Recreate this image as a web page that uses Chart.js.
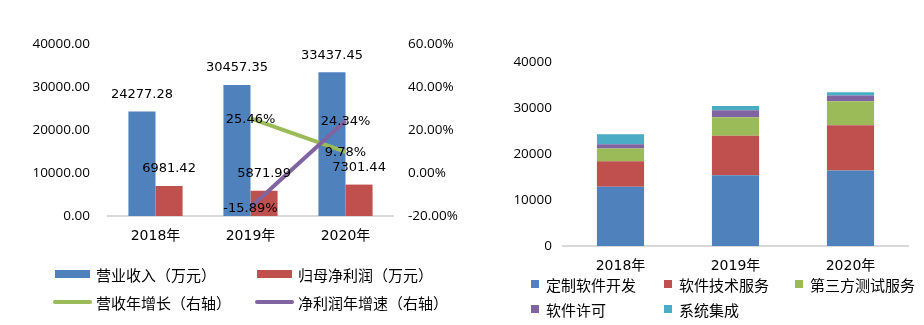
<!DOCTYPE html>
<html>
<head>
<meta charset="utf-8">
<script src="https://cdn.jsdelivr.net/npm/chart.js@4.4.1/dist/chart.umd.min.js"></script>
<style>
    html, body { margin: 0; padding: 0; background: #fff; }
    #left { position: absolute; left: 0; top: 0; width: 470px; height: 325px; }
    #right { position: absolute; left: 480px; top: 0; width: 444px; height: 325px; }
</style>
</head>
<body>
<div id="left"><canvas id="chart-1"></canvas></div>
<div id="right"><canvas id="chart-2"></canvas></div>
<script>
// 年份
const years = ['2018年', '2019年', '2020年'];

// 营收 / 净利润 (万元) 与同比增速 (%)
const revenue = [24277.28, 30457.35, 33437.45];
const netProfit = [6981.42, 5871.99, 7301.44];
const revenueGrowth = [null, 25.46, 9.78];
const profitGrowth = [null, -15.89, 24.34];

// 收入构成 (万元)
const customDev = [12900, 15400, 16410];
const techService = [5550, 8560, 9850];
const testService = [2750, 4045, 5215];
const licensing = [930, 1515, 1240];
const integration = [2150, 937, 720];

// 坐标轴范围
const leftAxis = { min: 0, max: 40000, step: 10000 };
const rightAxis = { min: -20, max: 60, step: 20 };
const mixAxis = { min: 0, max: 40000, step: 10000 };

const BLUE = '#4F81BD';
const RED = '#C0504D';
const GREEN = '#9BBB59';
const PURPLE = '#8064A2';
const CYAN = '#4BACC6';

const tickFont = { family: "'Open Sans', 'Noto Sans CJK SC'", size: 13.5 };
const catFont = { family: "'DejaVu Sans', 'Noto Sans CJK SC'", size: 14 };
const LEGEND_FONT = "15px 'Noto Sans CJK SC'";
const LABEL_FONT = "13px 'DejaVu Sans'";

// 柱顶和折线点上的数值
const valueLabels = {
    id: 'valueLabels',
    afterDatasetsDraw(chart) {
        const ctx = chart.ctx;
        ctx.save();
        ctx.font = LABEL_FONT;
        ctx.fillStyle = '#000';
        ctx.textAlign = 'center';
        ctx.textBaseline = 'middle';
        chart.data.datasets.forEach((ds, i) => {
            const meta = chart.getDatasetMeta(i);
            meta.data.forEach((el, j) => {
                const v = ds.data[j];
                if (v == null) return;
                if (ds.type === 'line') {
                    ctx.fillText(v.toFixed(2) + '%', el.x, el.y + 1);
                } else {
                    ctx.fillText(v.toFixed(2), el.x, el.y - 17);
                }
            });
        });
        ctx.restore();
    }
};

// 网格式图例
function gridLegend(cfg) {
    return {
        id: 'gridLegend',
        afterDraw(chart) {
            const ctx = chart.ctx;
            ctx.save();
            ctx.font = LEGEND_FONT;
            ctx.textBaseline = 'middle';
            ctx.textAlign = 'left';
            chart.data.datasets.forEach((ds, i) => {
                const x = cfg.cols[i % cfg.cols.length];
                const y = cfg.rows[Math.floor(i / cfg.cols.length)];
                if (ds.type === 'line') {
                    ctx.strokeStyle = ds.borderColor;
                    ctx.lineWidth = 4;
                    ctx.lineCap = 'round';
                    ctx.beginPath();
                    ctx.moveTo(x, y);
                    ctx.lineTo(x + cfg.swatchW, y);
                    ctx.stroke();
                } else {
                    ctx.fillStyle = ds.backgroundColor;
                    ctx.fillRect(x, y - cfg.swatchH / 2, cfg.swatchW, cfg.swatchH);
                }
                ctx.fillStyle = '#000';
                ctx.fillText(ds.label, x + cfg.swatchW + cfg.gap, y + 1);
            });
            ctx.restore();
        }
    };
}

const noGrid = { display: false, drawTicks: false };

// 营收与净利润
new Chart(document.getElementById('chart-1'), {
    type: 'bar',
    data: {
        labels: years,
        datasets: [{
            label: '营业收入（万元）',
            data: revenue,
            backgroundColor: BLUE,
            yAxisID: 'y',
            order: 3
        }, {
            label: '归母净利润（万元）',
            data: netProfit,
            backgroundColor: RED,
            yAxisID: 'y',
            order: 3
        }, {
            type: 'line',
            label: '营收年增长（右轴）',
            data: revenueGrowth,
            borderColor: GREEN,
            borderWidth: 4,
            pointRadius: 0,
            yAxisID: 'y1',
            order: 2
        }, {
            type: 'line',
            label: '净利润年增速（右轴）',
            data: profitGrowth,
            borderColor: PURPLE,
            borderWidth: 4,
            pointRadius: 0,
            yAxisID: 'y1',
            order: 1
        }]
    },
    options: {
        responsive: true,
        maintainAspectRatio: false,
        animation: false,
        layout: { padding: { top: 44, left: 0, right: 0, bottom: 0 } },
        datasets: { bar: { categoryPercentage: 0.57, barPercentage: 1 } },
        scales: {
            x: {
                grid: noGrid,
                border: { color: '#d9d9d9', width: 2 },
                ticks: { color: '#000', font: catFont, padding: 12 },
                afterFit: s => { s.height = 109; }
            },
            y: {
                position: 'left',
                min: leftAxis.min,
                max: leftAxis.max,
                grid: noGrid,
                border: { display: false },
                ticks: { stepSize: leftAxis.step, color: '#000', font: tickFont, padding: 18,
                    callback: v => v.toFixed(2) },
                afterFit: s => { s.width = 108; }
            },
            y1: {
                position: 'right',
                min: rightAxis.min,
                max: rightAxis.max,
                grid: noGrid,
                border: { display: false },
                ticks: { stepSize: rightAxis.step, color: '#000', font: tickFont, padding: 15,
                    callback: v => v.toFixed(2) + '%' },
                afterFit: s => { s.width = 77; }
            }
        },
        plugins: { legend: { display: false }, tooltip: { enabled: false } }
    },
    plugins: [valueLabels, gridLegend({ cols: [55, 257], rows: [274, 302], swatchW: 35, swatchH: 8, gap: 6 })]
});

// 收入构成堆叠柱
new Chart(document.getElementById('chart-2'), {
    type: 'bar',
    data: {
        labels: years,
        datasets: [
            { label: '定制软件开发', data: customDev, backgroundColor: BLUE },
            { label: '软件技术服务', data: techService, backgroundColor: RED },
            { label: '第三方测试服务', data: testService, backgroundColor: GREEN },
            { label: '软件许可', data: licensing, backgroundColor: PURPLE },
            { label: '系统集成', data: integration, backgroundColor: CYAN }
        ]
    },
    options: {
        responsive: true,
        maintainAspectRatio: false,
        animation: false,
        layout: { padding: { top: 62, left: 0, right: 16, bottom: 0 } },
        datasets: { bar: { categoryPercentage: 0.41, barPercentage: 1 } },
        scales: {
            x: {
                stacked: true,
                grid: noGrid,
                border: { color: '#d9d9d9', width: 2 },
                ticks: { color: '#000', font: catFont, padding: 12 },
                afterFit: s => { s.height = 79; }
            },
            y: {
                stacked: true,
                min: mixAxis.min,
                max: mixAxis.max,
                grid: noGrid,
                border: { display: false },
                ticks: { stepSize: mixAxis.step, color: '#000', font: tickFont, padding: 11,
                    callback: v => String(v) },
                afterFit: s => { s.width = 83; }
            }
        },
        plugins: { legend: { display: false }, tooltip: { enabled: false } }
    },
    plugins: [gridLegend({ cols: [51, 184, 315], rows: [284, 309], swatchW: 8, swatchH: 8, gap: 7 })]
});
</script>
</body>
</html>
